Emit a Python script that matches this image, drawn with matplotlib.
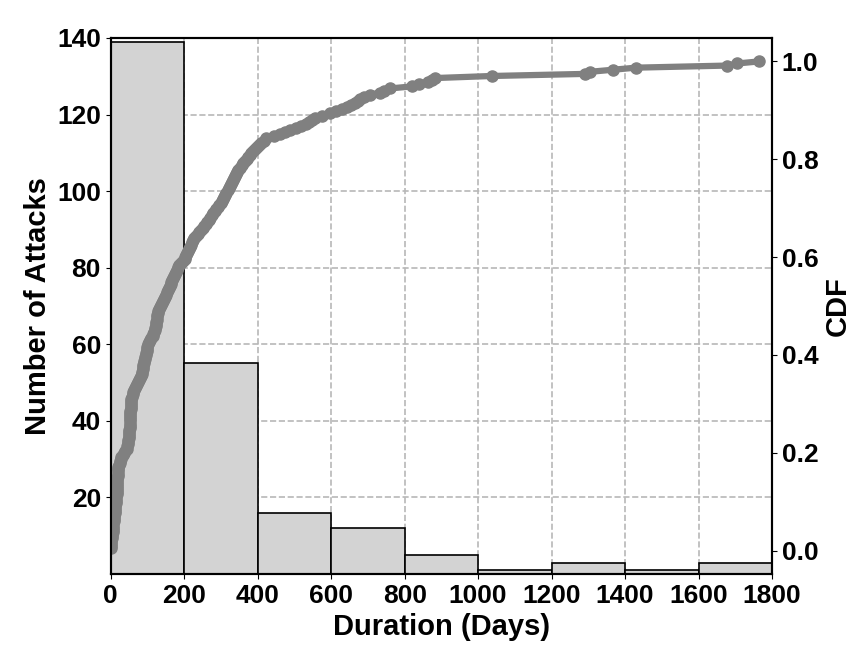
import numpy as np
import matplotlib
matplotlib.use("Agg")
import matplotlib.pyplot as plt

plt.rcParams['font.family'] = ['Liberation Sans', 'DejaVu Sans']
plt.rcParams['font.weight'] = 'bold'

# Attack durations in days (sorted), read from the CDF / histogram
dur_0_200 = [0, 1, 1, 2, 2, 3, 3, 4, 5, 5, 6, 7, 7, 8, 9, 10, 10, 11,
             12, 12, 13, 13, 14, 14, 15, 15,
             16, 16, 16, 17, 17, 17, 18, 18, 18, 19, 19, 19, 20, 20,
             22, 24, 26, 28, 29,
             33, 37, 40, 43,
             45, 46, 47, 48, 49, 50, 50, 51, 51, 52, 52, 52,
             52, 52, 53, 53, 53, 53, 54, 54, 54, 55, 55, 56,
             58, 60, 62, 64, 65,
             68, 71, 74, 77, 80, 82, 84,
             86, 87, 88, 89, 90, 91, 92, 94, 95, 96, 98, 99, 100, 102,
             105, 108, 111, 114, 116, 118, 120,
             121, 122, 123, 124, 125, 126, 127, 128, 129,
             132, 135, 138, 140, 142, 145, 147,
             150, 153, 155, 158, 160, 163, 165,
             168, 170, 173, 175, 178, 180, 183,
             186, 190, 196]
dur_200_400 = [201, 202, 204,
               207, 210, 213, 216, 219, 222, 224,
               228, 232, 237, 241, 246, 251,
               255, 259, 263, 267, 271, 275, 279,
               283, 287, 291, 295, 299, 303, 306,
               309, 312, 315, 318, 321, 324, 327, 330, 333,
               335, 338, 340, 343, 346,
               351, 356, 361, 365, 370,
               374, 379, 383, 388, 392, 397]
dur_400_600 = [404, 410, 416, 424, 445, 460, 475, 487, 503, 519, 532, 540,
               548, 556, 575, 598]
dur_600_800 = [612, 630, 642, 655, 665, 672, 678, 690, 705, 733, 745, 760]
dur_800_plus = [820, 840, 863, 875, 882, 1038, 1291, 1304, 1367, 1430,
                1678, 1705, 1765]

durations = np.array(dur_0_200 + dur_200_400 + dur_400_600 + dur_600_800 + dur_800_plus)
bin_edges = [0, 200, 400, 600, 800, 1000, 1200, 1400, 1600, 1800]
left_ticks = [20, 40, 60, 80, 100, 120, 140]
right_ticks = [0.0, 0.2, 0.4, 0.6, 0.8, 1.0]
x_ticks = [0, 200, 400, 600, 800, 1000, 1200, 1400, 1600, 1800]

fig = plt.figure(figsize=(8.65, 6.54), dpi=100)
ax = fig.add_axes([0.128, 0.1223, 0.7645, 0.8197])

ax.set_axisbelow(True)
ax.grid(True, linestyle='--', color='#b8b8b8', linewidth=1.2)
ax.hist(durations, bins=bin_edges, color='#d3d3d3', edgecolor='black', linewidth=1.2)
ax.set_xlim(0, 1800)
ax.set_ylim(0, 140)
ax.set_xticks(x_ticks)
ax.set_yticks(left_ticks)
ax.set_xlabel('Duration (Days)', fontsize=21, fontweight='bold')
ax.set_ylabel('Number of Attacks', fontsize=21, fontweight='bold')
ax.tick_params(labelsize=19)
for lbl in ax.get_xticklabels() + ax.get_yticklabels():
    lbl.set_fontweight('bold')

ax2 = ax.twinx()
sorted_d = np.sort(durations)
cdf = np.arange(1, len(sorted_d) + 1) / len(sorted_d)
ax2.plot(sorted_d, cdf, color='#808080', linewidth=4.5, marker='o', markersize=8)
ax2.set_ylim(-0.048, 1.048)
ax2.set_yticks(right_ticks)
ax2.set_ylabel('CDF', fontsize=21, fontweight='bold')
ax2.tick_params(labelsize=19)
for lbl in ax2.get_yticklabels():
    lbl.set_fontweight('bold')

for a in (ax, ax2):
    for s in a.spines.values():
        s.set_linewidth(1.5)

fig.savefig('out.png', dpi=100)
